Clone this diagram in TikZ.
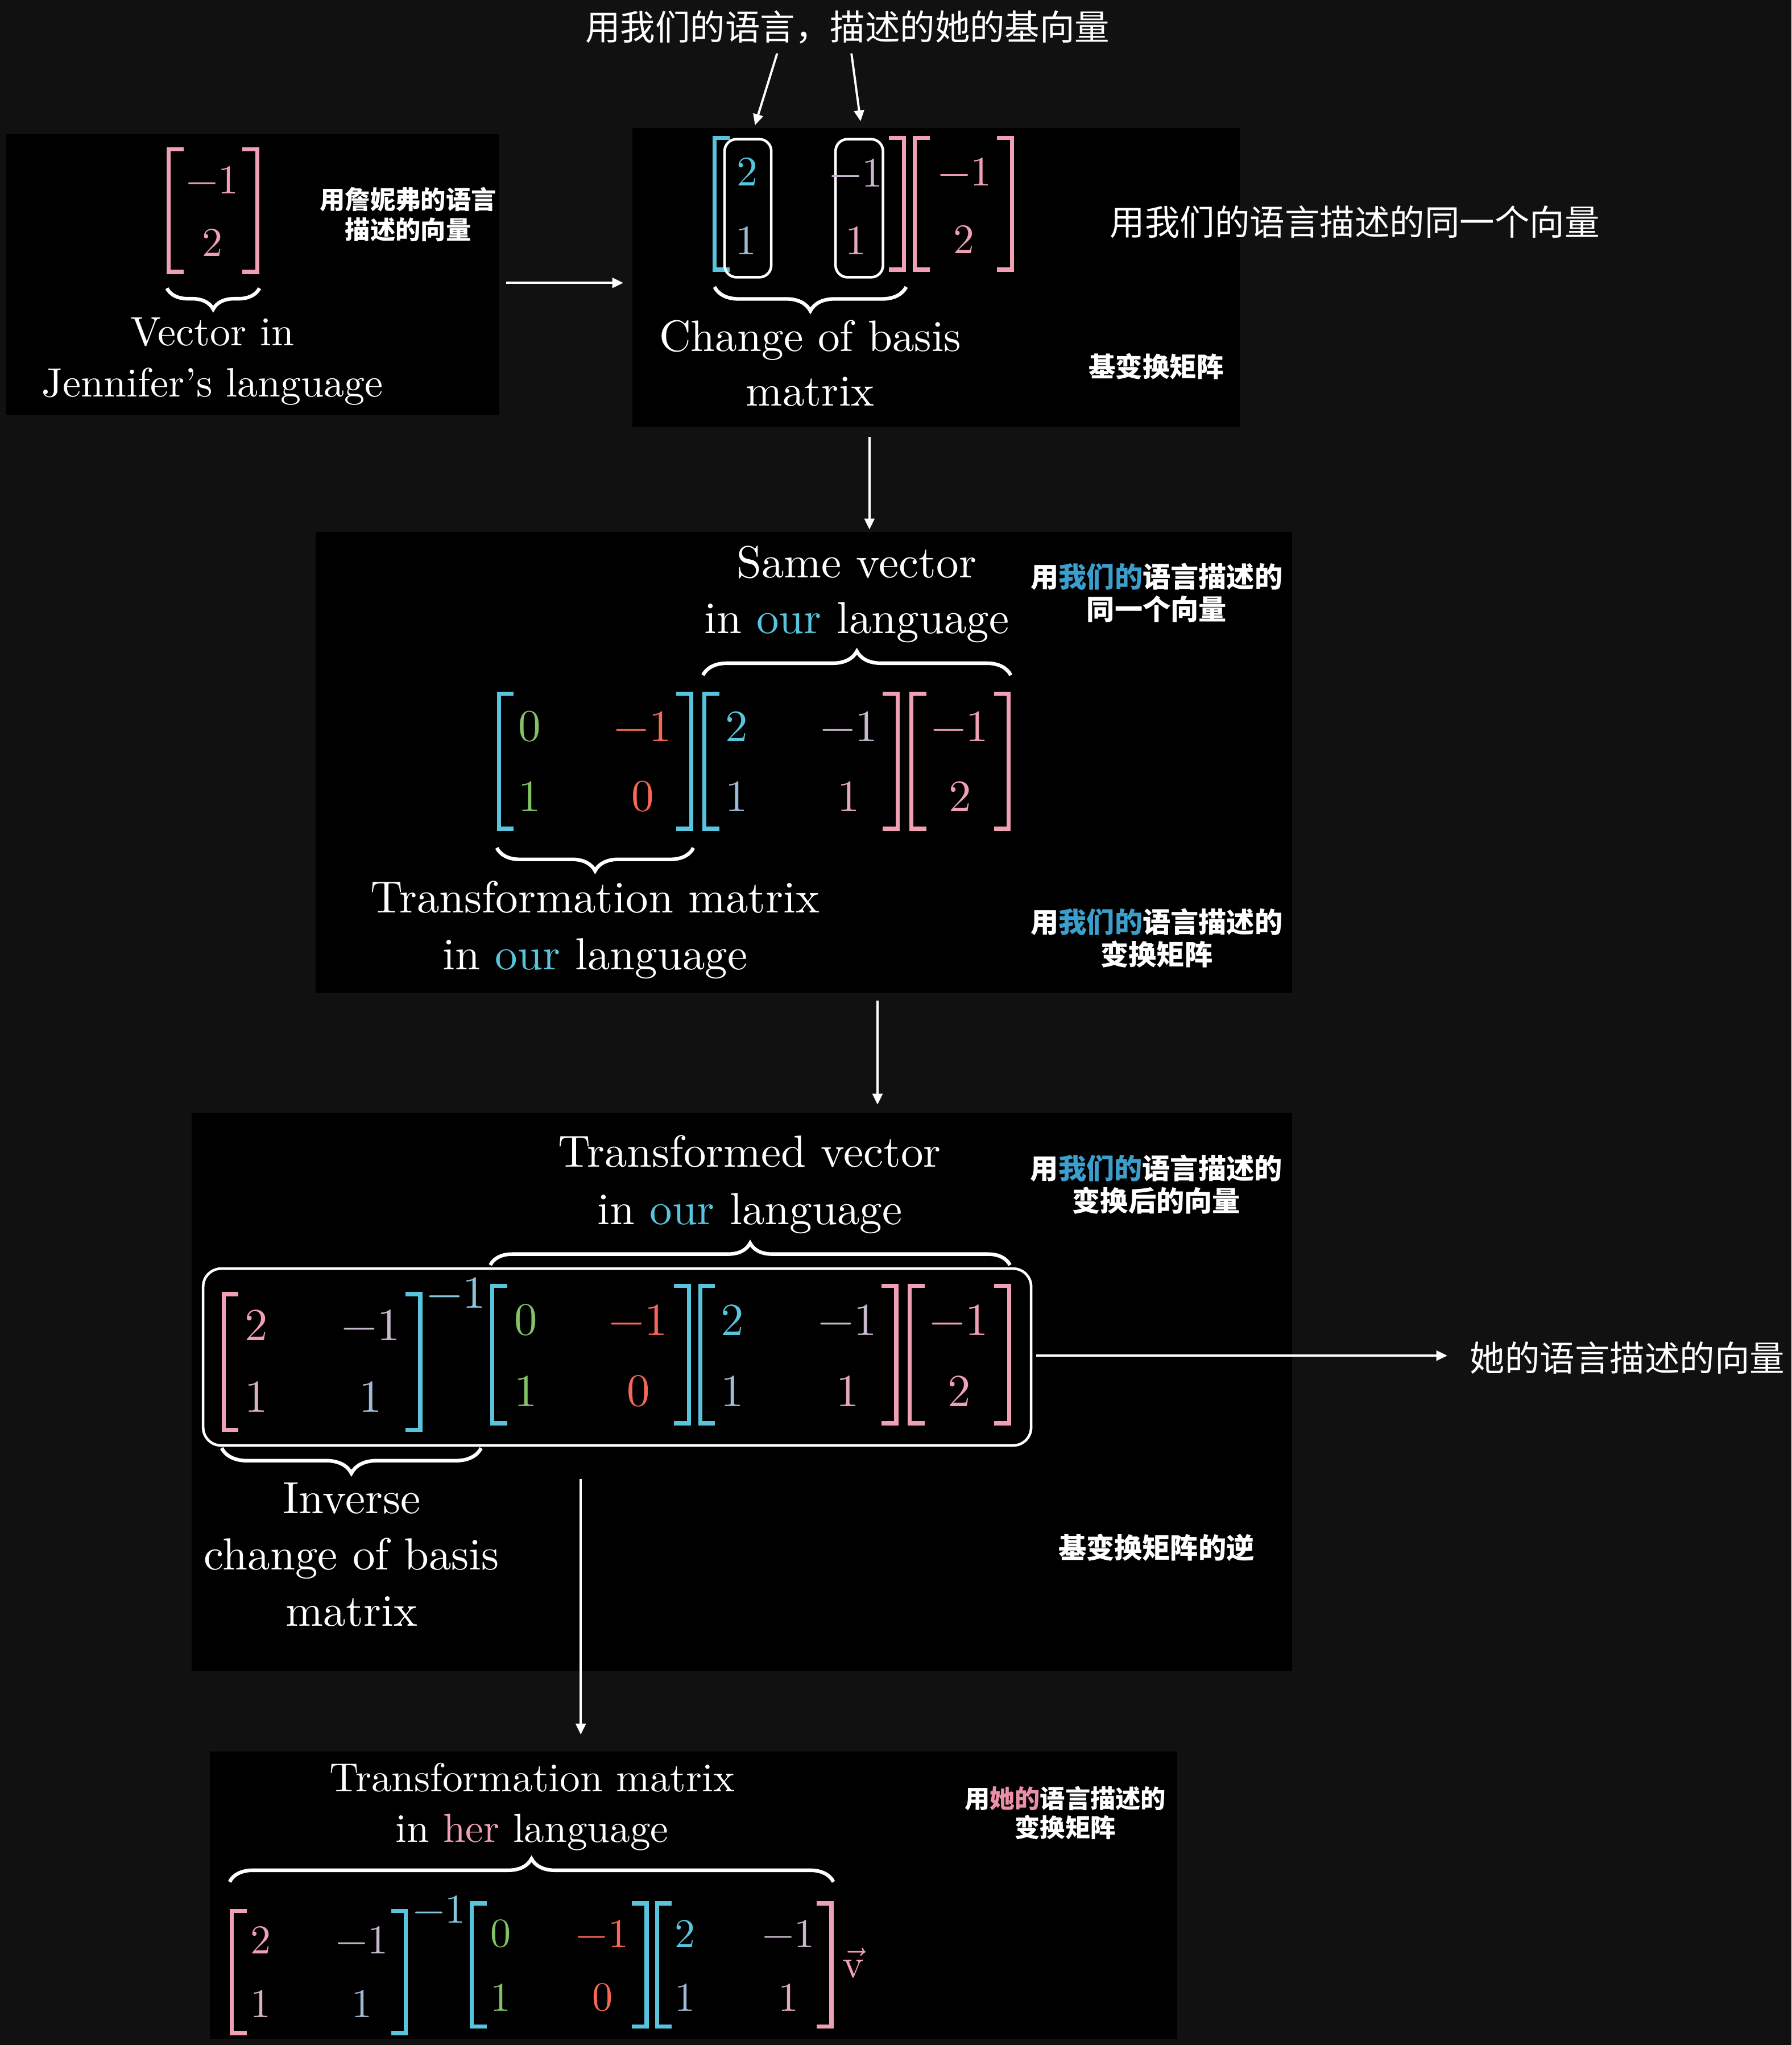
\documentclass[tikz,border=0pt]{standalone}
\usepackage{fontspec}
\usepackage{amsmath}
\setmainfont{lmroman10-regular.otf}
\newfontfamily\cjk{Noto Sans CJK SC}
\usetikzlibrary{arrows.meta, positioning, fit, decorations.pathreplacing}
\definecolor{bgDark}{HTML}{111111}
\definecolor{vecBlue}{HTML}{58C4DD}
\definecolor{vecPink}{HTML}{F0A0B4}
\definecolor{vecGreen}{HTML}{83C167}
\definecolor{vecRed}{HTML}{F86656}
\definecolor{mixLilac}{HTML}{C8B8CC}
\definecolor{mixSteel}{HTML}{9FBAD6}
\definecolor{mixRose}{HTML}{E2A8B8}
\definecolor{mixMauve}{HTML}{D8B2C4}
\definecolor{supBlue}{HTML}{88C6DE}
\definecolor{tagBlue}{HTML}{3A9FCC}
\definecolor{tagPink}{HTML}{EA8FA6}
% brackets: colour, outer x, top y, bottom y
\newcommand{\brL}[4]{\draw[#1,brk] ({#2+13},{#3+1.6}) -- ({#2+1.6},{#3+1.6}) -- ({#2+1.6},{#4-1.6}) -- ({#2+13},{#4-1.6});}
\newcommand{\brR}[4]{\draw[#1,brk] ({#2-13},{#3+1.6}) -- ({#2-1.6},{#3+1.6}) -- ({#2-1.6},{#4-1.6}) -- ({#2-13},{#4-1.6});}
\newcommand{\sz}[1]{\fontsize{#1}{1.2\dimexpr #1pt\relax}\selectfont}
\begin{document}
\begin{tikzpicture}[x=0.022933cm, y=-0.022933cm,
    every node/.style={inner sep=0pt},
    panel/.style={fill=black, inner sep=0pt},
    ent/.style={text=#1},
    txt/.style={text=white, anchor=base},
    tag/.style={text=white, align=center, font=\cjk\bfseries\fontsize{14}{16.3}\selectfont},
    note/.style={text=white, font=\cjk\fontsize{17.5}{20}\selectfont},
    brk/.style={line width=2.1pt, miter limit=10},
    brc/.style={white, line width=1.8pt, decorate, decoration={brace, amplitude=#1}},
    colbox/.style={white, line width=1.3pt, rounded corners=6pt},
    arr/.style={white, line width=1.1pt, -{Triangle[length=5.5pt,width=5pt]}}]
  \fill[bgDark] (0,0) rectangle (1374,1568);
  \useasboundingbox (0,0) rectangle (1374,1568);

  % panels
  \node[panel, fit={(5,103) (383,318)}] (pA) {};
  \node[panel, fit={(485,98) (951,327)}] (pB) {};
  \node[panel, fit={(242,408) (991,761)}] (pC) {};
  \node[panel, fit={(147,853) (991,1281)}] (pD) {};
  \node[panel, fit={(161,1343) (903,1563)}] (pE) {};

  % notes outside the panels
  \node[note] (topnote) at (650,21) {用我们的语言，描述的她的基向量};
  \node[note] (samenote) at (1039,170) {用我们的语言描述的同一个向量};
  \node[note] (hernote) at (1248,1041) {她的语言描述的向量};

  % panel A: vector in Jennifer's language
  \begin{scope}[font=\sz{20.5}]
    \brL{vecPink}{127.7}{113}{210} \brR{vecPink}{199}{113}{210}
    \node[ent=vecPink] (A1) at (163,138) {−1};
    \node[ent=vecPink] (A2) at (163,186) {2};
    \draw[brc=10.5pt] (199,221) -- (128,221);
    \node[txt, font=\sz{20.5}] (Atx1) at (163,265.1) {Vector in};
    \node[txt, font=\sz{20.5}] (Atx2) at (163,304.2) {Jennifer’s language};
    \node[tag, font=\cjk\bfseries\fontsize{12.6}{15}\selectfont] (Atag) at (313,164.5) {用詹妮弗的语言\\描述的向量};
  \end{scope}

  % panel B: change of basis matrix
  \begin{scope}[font=\sz{21}]
    \brL{vecBlue}{546.4}{104.3}{208.4} \brR{vecPink}{694.9}{104.3}{208.4}
    \brL{vecPink}{700}{104.3}{208.4} \brR{vecPink}{777.7}{104.3}{208.4}
    \draw[colbox] (555.7,106.7) rectangle (591.5,212.6);
    \draw[colbox] (640.8,106.7) rectangle (677.2,212.6);
    \foreach \nm/\px/\py/\cl/\tx in {11/573/131.6/vecBlue/2, 21/572.4/184.5/mixSteel/1,
        12/656.5/132.4/mixLilac/−1, 22/656.5/184.5/mixRose/1,
        v1/740/131.6/vecPink/−1, v2/739.3/183.7/vecPink/2}
      \node[ent=\cl] (B\nm) at (\px,\py) {\tx};
    \draw[brc=12pt] (695,220) -- (548,220);
    \node[txt, font=\sz{22}] (Btx1) at (621.4,269.4) {Change of basis};
    \node[txt, font=\sz{22}] (Btx2) at (621.4,311.2) {matrix};
    \node[tag, font=\cjk\bfseries\fontsize{13.5}{16}\selectfont] (Btag) at (886.7,281) {基变换矩阵};
  \end{scope}

  % panel C: same vector, transformation in our language
  \begin{scope}[font=\sz{22.5}]
    \brL{vecBlue}{381}{530.3}{637.1} \brR{vecBlue}{531.8}{530.3}{637.1}
    \brL{vecBlue}{538.6}{530.3}{637.1} \brR{vecPink}{690}{530.3}{637.1}
    \brL{vecPink}{697.3}{530.3}{637.1} \brR{vecPink}{775.2}{530.3}{637.1}
    \foreach \nm/\px/\py/\cl/\tx in {a11/406.3/557/vecGreen/0, a12/492.9/557/vecRed/−1,
        a21/406.3/610.5/vecGreen/1, a22/492.9/610.5/vecRed/0,
        b11/564.9/557/vecBlue/2, b12/651/557/mixLilac/−1,
        b21/564.9/610.5/mixSteel/1, b22/651/610.5/mixRose/1,
        v1/736.2/557/vecPink/−1, v2/736.2/610.5/vecPink/2}
      \node[ent=\cl] (C\nm) at (\px,\py) {\tx};
    \draw[brc=12pt] (539.1,517.7) -- (775.2,517.7);
    \draw[brc=11.5pt] (531.8,650.1) -- (381,650.1);
    \node[txt, font=\sz{22.5}] (Ctx1) at (656.9,442.8) {Same vector};
    \node[txt, font=\sz{22.5}] (Ctx2) at (656.9,485.8) {in {\color{vecBlue}our} language};
    \node[txt, font=\sz{22.5}] (Ctx3) at (456.4,699.7) {Transformation matrix};
    \node[txt, font=\sz{22.5}] (Ctx4) at (456.4,743.5) {in {\color{vecBlue}our} language};
    \node[tag] (Ctag1) at (887.1,454.5) {用{\color{tagBlue}我们的}语言描述的\\同一个向量};
    \node[tag] (Ctag2) at (887.1,719.3) {用{\color{tagBlue}我们的}语言描述的\\变换矩阵};
  \end{scope}

  % panel D: back to her language
  \begin{scope}[font=\sz{23}]
    \draw[colbox, rounded corners=9pt] (155.8,972.7) rectangle (790.8,1108.3);
    \brL{vecPink}{169.9}{990.7}{1097.8} \brR{vecBlue}{323.9}{990.7}{1097.8}
    \brL{vecBlue}{376}{984.3}{1092.8} \brR{vecBlue}{530}{984.3}{1092.8}
    \brL{vecBlue}{535.4}{984.3}{1092.8} \brR{vecPink}{688.9}{984.3}{1092.8}
    \brL{vecPink}{696}{984.3}{1092.8} \brR{vecPink}{775.6}{984.3}{1092.8}
    \foreach \nm/\px/\py/\cl/\tx in {i11/196.5/1016/vecPink/2, i12/284.3/1016/mixLilac/−1,
        i21/196.5/1071/mixMauve/1, i22/284.3/1071/mixSteel/1,
        a11/403.1/1012/vecGreen/0, a12/489.6/1012/vecRed/−1,
        a21/403.1/1066.5/vecGreen/1, a22/489.6/1066.5/vecRed/0,
        b11/561.5/1012/vecBlue/2, b12/650.1/1012/mixLilac/−1,
        b21/561.5/1066.5/mixSteel/1, b22/650.1/1066.5/mixRose/1,
        v1/735.5/1012/vecPink/−1, v2/735.5/1066.5/vecPink/2}
      \node[ent=\cl] (D\nm) at (\px,\py) {\tx};
    \node[ent=supBlue] (Dsup) at (350,991) {−1};
    \draw[brc=11pt] (376,970) -- (774.6,970);
    \draw[brc=12.6pt] (369,1110.3) -- (170,1110.3);
    \node[txt, font=\sz{22.5}] (Dtx1) at (575,894.8) {Transformed vector};
    \node[txt, font=\sz{22.5}] (Dtx2) at (575,938.7) {in {\color{vecBlue}our} language};
    \node[txt, font=\sz{22.5}] (Dtx3) at (269.7,1160.3) {Inverse};
    \node[txt, font=\sz{22.5}] (Dtx4) at (269.7,1203.5) {change of basis};
    \node[txt, font=\sz{22.5}] (Dtx5) at (269.7,1246.6) {matrix};
    \node[tag] (Dtag1) at (886.8,908) {用{\color{tagBlue}我们的}语言描述的\\变换后的向量};
    \node[tag] (Dtag2) at (886.8,1186.8) {基变换矩阵的逆};
  \end{scope}

  % panel E: transformation matrix in her language
  \begin{scope}[font=\sz{20.5}]
    \brL{vecPink}{176.1}{1463.7}{1560.5} \brR{vecBlue}{312.9}{1463.7}{1560.5}
    \brL{vecBlue}{360.3}{1457.8}{1555.3} \brR{vecBlue}{497.5}{1457.8}{1555.3}
    \brL{vecBlue}{502.3}{1457.8}{1555.3} \brR{vecPink}{639.2}{1457.8}{1555.3}
    \foreach \nm/\px/\py/\cl/\tx in {i11/200/1487.5/vecPink/2, i12/277.8/1487.5/mixLilac/−1,
        i21/200/1536.3/mixMauve/1, i22/277.8/1536.3/mixSteel/1,
        a11/384.2/1482.7/vecGreen/0, a12/461.9/1482.7/vecRed/−1,
        a21/384.2/1531.4/vecGreen/1, a22/461.9/1531.4/vecRed/0,
        b11/525.3/1482.7/vecBlue/2, b12/604.9/1482.7/mixLilac/−1,
        b21/525.3/1531.4/mixSteel/1, b22/604.9/1531.4/mixRose/1}
      \node[ent=\cl] (E\nm) at (\px,\py) {\tx};
    \node[ent=supBlue] (Esup) at (336.8,1464.1) {−1};
    \node[ent=vecPink] (Evec) at (654.5,1505) {$\vec{\mathbf{v}}$};
    \draw[brc=11.6pt] (176.1,1442.9) -- (639.2,1442.9);
    \node[txt, font=\sz{20.3}] (Etx1) at (408.1,1373.7) {Transformation matrix};
    \node[txt, font=\sz{20.3}] (Etx2) at (408.1,1412.4) {in {\color{vecPink}her} language};
    \node[tag, font=\cjk\bfseries\fontsize{12.6}{14.3}\selectfont] (Etag) at (817,1390.1) {用{\color{tagPink}她的}语言描述的\\变换矩阵};
  \end{scope}

  % connectors
  \coordinate (t1s) at (596,41); \coordinate (t1e) at (579,96);
  \coordinate (t2s) at (653,41); \coordinate (t2e) at (660,93);
  \coordinate (ab1) at (388,216.9); \coordinate (ab2) at (478,216.9);
  \coordinate (bc1) at (666.8,335); \coordinate (bc2) at (666.8,406);
  \coordinate (cd1) at (673,767); \coordinate (cd2) at (673,847);
  \coordinate (dh1) at (794.7,1039.4); \coordinate (dh2) at (1110,1039.4);
  \coordinate (de1) at (445.4,1134); \coordinate (de2) at (445.4,1330);
  \draw[arr] (t1s) -- (t1e); \draw[arr] (t2s) -- (t2e);
  \draw[arr] (ab1) -- (ab2); \draw[arr] (bc1) -- (bc2);
  \draw[arr] (cd1) -- (cd2); \draw[arr] (dh1) -- (dh2);
  \draw[arr] (de1) -- (de2);
\end{tikzpicture}
\end{document}
